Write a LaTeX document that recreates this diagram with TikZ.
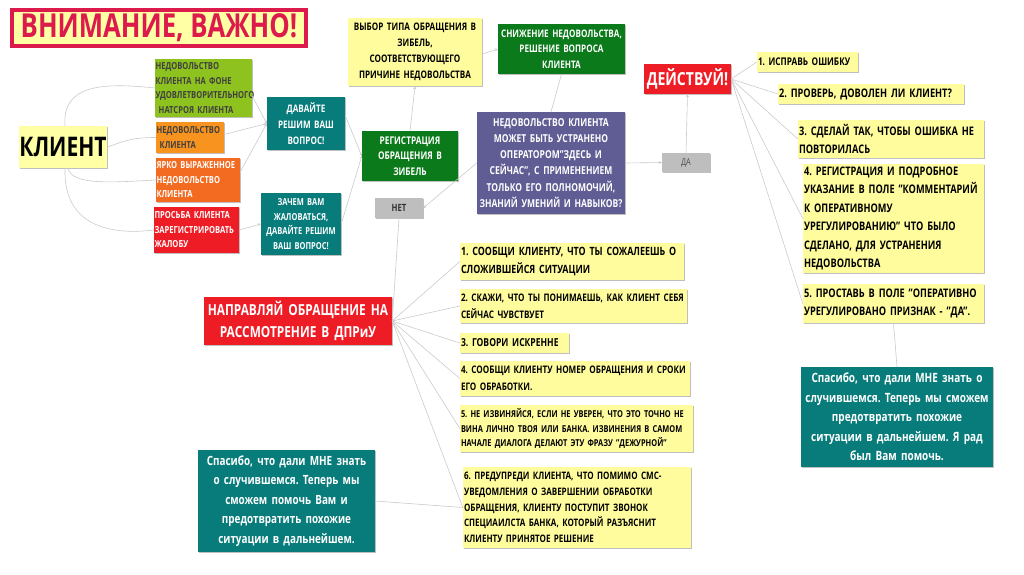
\documentclass[tikz,border=0pt]{standalone}
\usepackage{fontspec}
\setmainfont{Open Sans}[FakeStretch=0.78]
\usetikzlibrary{arrows.meta,shadows}
\definecolor{cyel}{HTML}{FFFC9E}
\definecolor{ctyel}{HTML}{FFFFA6}
\definecolor{ccrim}{HTML}{DC1A4C}
\definecolor{clime}{HTML}{8DC21F}
\definecolor{cor1}{HTML}{F7931E}
\definecolor{cor2}{HTML}{F26B21}
\definecolor{cred}{HTML}{EE1C25}
\definecolor{cteal}{HTML}{087B7B}
\definecolor{cdgreen}{HTML}{0B7A1A}
\definecolor{cpurp}{HTML}{605C94}
\definecolor{cgray}{HTML}{BEBEBE}
\definecolor{cline}{HTML}{CACACA}
\newcommand\fs[2]{\fontsize{#1}{#2}\selectfont}
\frenchspacing
\tikzset{
  bx/.style={rectangle, inner sep=0pt, font=\bfseries, drop shadow={shadow xshift=0.8pt, shadow yshift=-0.8pt, fill=black, opacity=0.25}},
  ybox/.style={bx, fill=cyel, text=black, align=left},
  tealbox/.style={bx, fill=cteal, text=white, align=center},
  conn/.style={draw=cline, line width=0.6pt},
  arr/.style={conn, -{Stealth[length=3pt,width=3pt]}},
}
\begin{document}
\begin{tikzpicture}[x=1pt,y=-1pt]
\useasboundingbox (0,0) rectangle (1024,574);
% title
\node[bx, fill=ctyel, draw=ccrim, line width=4pt, minimum width=294, minimum height=36, text=ccrim, font=\bfseries\fs{33}{36}] (title) at (159,28) {ВНИМАНИЕ, ВАЖНО!};
% client
\node[bx, fill=ctyel, minimum width=88, minimum height=42, font=\bfseries\fs{27}{30}] (klient) at (63,147) {КЛИЕНТ};
% left small boxes
\node[bx, fill=clime, text=black!75, minimum width=97, minimum height=58, text width=96, align=left, font=\bfseries\fs{9.7}{14.5}] (g1) at (203.5,88) {НЕДОВОЛЬСТВО\\КЛИЕНТА НА ФОНЕ\\УДОВЛЕТВОРИТЕЛЬНОГО\\\ НАТСРОЯ КЛИЕНТА};
\node[bx, fill=cor1, text=black!75, minimum width=68, minimum height=31, text width=67, align=left, font=\bfseries\fs{9.7}{14.5}] (o1) at (190,137.5) {НЕДОВОЛЬСТВО\\\ КЛИЕНТА};
\node[bx, fill=cor2, text=white, minimum width=84, minimum height=44, text width=83, align=left, font=\bfseries\fs{9.7}{14.5}] (o2) at (198,180) {ЯРКО ВЫРАЖЕННОЕ\\НЕДОВОЛЬСТВО\\КЛИЕНТА};
\node[bx, fill=cred, text=white, minimum width=85, minimum height=46, text width=84, align=left, font=\bfseries\fs{9.7}{14.5}] (r1) at (196.5,230) {ПРОСЬБА КЛИЕНТА\\ЗАРЕГИСТРИРОВАТЬ\\ЖАЛОБУ};
\node[tealbox, minimum width=78, minimum height=53, text width=77, font=\bfseries\fs{10.4}{16}] (t1) at (306,123.5) {ДАВАЙТЕ\\РЕШИМ ВАШ\\ВОПРОС!};
\node[tealbox, minimum width=80, minimum height=62, text width=79, font=\bfseries\fs{9.6}{14.8}] (t2) at (301,224) {ЗАЧЕМ ВАМ\\ЖАЛОВАТЬСЯ,\\ДАВАЙТЕ РЕШИМ\\ВАШ ВОПРОС!};
% center
\node[bx, fill=cyel, minimum width=134, minimum height=68, text width=133, align=center, font=\bfseries\fs{10.4}{16}] (vyb) at (415,52) {ВЫБОР ТИПА ОБРАЩЕНИЯ В\\ЗИБЕЛЬ,\\СООТВЕТСТВУЮЩЕГО\\ПРИЧИНЕ НЕДОВОЛЬСТВА};
\node[bx, fill=cdgreen, text=white, minimum width=127, minimum height=50, text width=126, align=center, font=\bfseries\fs{10.4}{15.5}] (sn) at (561.5,49) {СНИЖЕНИЕ НЕДОВОЛЬСТВА,\\РЕШЕНИЕ ВОПРОСА\\КЛИЕНТА};
\node[bx, fill=cdgreen, text=white, minimum width=96, minimum height=50, text width=95, align=center, font=\bfseries\fs{10.6}{15.5}] (reg) at (410,156) {РЕГИСТРАЦИЯ\\ОБРАЩЕНИЯ В\\ЗИБЕЛЬ};
\node[bx, fill=cgray, text=black!80, minimum width=48, minimum height=20, font=\bfseries\fs{10}{11}] (net) at (399,208) {НЕТ};
\node[bx, fill=cpurp, text=white, minimum width=148, minimum height=102, text width=147, align=center, font=\bfseries\fs{10.9}{16.2}] (pur) at (551,163) {НЕДОВОЛЬСТВО КЛИЕНТА\\МОЖЕТ БЫТЬ УСТРАНЕНО\\ОПЕРАТОРОМ"ЗДЕСЬ И\\СЕЙЧАС", С ПРИМЕНЕНИЕМ\\ТОЛЬКО ЕГО ПОЛНОМОЧИЙ,\\ЗНАНИЙ УМЕНИЙ И НАВЫКОВ?};
\node[bx, fill=cgray, text=black!70, minimum width=48, minimum height=19, font=\fs{9.5}{11}] (da) at (686,162.5) {ДА};
\node[bx, fill=cred, text=white, minimum width=87, minimum height=30, font=\bfseries\fs{18}{20}] (dei) at (687.5,79) {ДЕЙСТВУЙ!};
% right list
\node[ybox, minimum width=101, minimum height=20, text width=99, font=\bfseries\fs{10.6}{18.5}] (a1) at (807.5,62) {1. ИСПРАВЬ ОШИБКУ};
\node[ybox, minimum width=186, minimum height=20, text width=184, font=\bfseries\fs{11.8}{18.5}] (a2) at (871,94) {2. ПРОВЕРЬ, ДОВОЛЕН ЛИ КЛИЕНТ?};
\node[ybox, minimum width=186, minimum height=38, text width=184, font=\bfseries\fs{11.8}{18.5}] (a3) at (891,139) {3. СДЕЛАЙ ТАК, ЧТОБЫ ОШИБКА НЕ\\ПОВТОРИЛАСЬ};
\node[ybox, minimum width=181, minimum height=109, text width=179, font=\bfseries\fs{11.8}{18.5}] (a4) at (893.5,218.5) {4. РЕГИСТРАЦИЯ И ПОДРОБНОЕ\\УКАЗАНИЕ В ПОЛЕ "КОММЕНТАРИЙ\\К ОПЕРАТИВНОМУ\\УРЕГУЛИРОВАНИЮ" ЧТО БЫЛО\\СДЕЛАНО, ДЛЯ УСТРАНЕНИЯ\\НЕДОВОЛЬСТВА};
\node[ybox, minimum width=181, minimum height=39, text width=179, font=\bfseries\fs{11.8}{18.5}] (a5) at (893.5,303.5) {5. ПРОСТАВЬ В ПОЛЕ "ОПЕРАТИВНО\\УРЕГУЛИРОВАНО ПРИЗНАК - "ДА".};
\node[tealbox, minimum width=192, minimum height=100, text width=191, font=\bfseries\fs{12.8}{19.5}] (tr) at (897,417) {Спасибо, что дали МНЕ знать о\\случившемся. Теперь мы сможем\\предотвратить похожие\\ситуации в дальнейшем. Я рад\\был Вам помочь.};
% bottom left
\node[bx, fill=cred, text=white, minimum width=188, minimum height=48, text width=187, align=center, font=\bfseries\fs{15.2}{22}] (nap) at (298,321) {НАПРАВЛЯЙ ОБРАЩЕНИЕ НА\\РАССМОТРЕНИЕ В ДПРиУ};
\node[ybox, minimum width=224, minimum height=37, text width=222, font=\bfseries\fs{11.4}{18}] (b1) at (572,261.5) {1. СООБЩИ КЛИЕНТУ, ЧТО ТЫ СОЖАЛЕЕШЬ О\\СЛОЖИВШЕЙСЯ СИТУАЦИИ};
\node[ybox, minimum width=227, minimum height=34, text width=225, font=\bfseries\fs{10.4}{17}] (b2) at (573.5,306) {\mbox{2. СКАЖИ, ЧТО ТЫ ПОНИМАЕШЬ, КАК КЛИЕНТ СЕБЯ}\\СЕЙЧАС ЧУВСТВУЕТ};
\node[ybox, minimum width=109, minimum height=20, text width=107, font=\bfseries\fs{11}{17}] (b3) at (514.5,343) {3. ГОВОРИ ИСКРЕННЕ};
\node[ybox, minimum width=230, minimum height=35, text width=228, font=\bfseries\fs{10.4}{17}] (b4) at (575,378.5) {\mbox{4. СООБЩИ КЛИЕНТУ НОМЕР ОБРАЩЕНИЯ И СРОКИ}\\ЕГО ОБРАБОТКИ.};
\node[ybox, minimum width=233, minimum height=47, text width=231, font=\bfseries\fs{9.5}{14.5}] (b5) at (576.5,428.5) {5. НЕ ИЗВИНЯЙСЯ, ЕСЛИ НЕ УВЕРЕН, ЧТО ЭТО ТОЧНО НЕ\\ВИНА ЛИЧНО ТВОЯ ИЛИ БАНКА. ИЗВИНЕНИЯ В САМОМ\\НАЧАЛЕ ДИАЛОГА ДЕЛАЮТ ЭТУ ФРАЗУ "ДЕЖУРНОЙ"};
\node[ybox, minimum width=228, minimum height=81, text width=226, font=\bfseries\fs{10.3}{15.6}] (b6) at (577,507.5) {6. ПРЕДУПРЕДИ КЛИЕНТА, ЧТО ПОМИМО СМС-\\УВЕДОМЛЕНИЯ О ЗАВЕРШЕНИИ ОБРАБОТКИ\\ОБРАЩЕНИЯ, КЛИЕНТУ ПОСТУПИТ ЗВОНОК\\СПЕЦИАИЛСТА БАНКА, КОТОРЫЙ РАЗЪЯСНИТ\\КЛИЕНТУ ПРИНЯТОЕ РЕШЕНИЕ};
\node[tealbox, minimum width=177, minimum height=102, text width=176, font=\bfseries\fs{12.7}{19.5}] (tl) at (286.5,501) {Спасибо, что дали МНЕ знать\\о случившемся. Теперь мы\\сможем помочь Вам и\\предотвратить похожие\\ситуации в дальнейшем.};
% connectors
\draw[conn] ([xshift=2pt]klient.north) .. controls +(-3,-40) and +(-55,-6) .. (g1.west);
\draw[conn] (klient.east) .. controls +(18,-6) and +(-25,0) .. (o1.west);
\draw[conn] ([xshift=5pt]klient.south) .. controls +(4,18) and +(-40,2) .. (o2.west);
\draw[conn] ([xshift=2pt]klient.south) .. controls +(-2,60) and +(-40,5) .. (r1.west);
\draw[arr] ([yshift=-8pt]g1.east) -- (t1.west);
\draw[arr] ([yshift=3pt]o1.east) -- (t1.west);
\draw[arr] ([yshift=8pt]o2.east) -- (t1.west);
\draw[arr] (r1.east) -- (t2.west);
\draw[arr] ([yshift=8pt]t1.east) -- (reg.west);
\draw[arr] (t2.east) -- (reg.west);
\draw[arr] (reg.north) -- (vyb.south);
\draw[arr] ([yshift=-2pt]vyb.east) -- (sn.west);
\draw[conn] (sn.south) -- (pur.north);
\draw[arr] (pur.west) -- (net.east);
\draw[conn] (net.south) -- (nap.east);
\draw[arr] (pur.east) -- (da.west);
\draw[arr] (da.north) -- (dei.south);
\foreach \t in {a1,a2,a3,a4,a5} \draw[conn] (dei.east) -- (\t.west);
\draw[conn] (a5.south) -- (tr.north);
\foreach \t in {b1,b2,b3,b4,b5,b6} \draw[conn] (nap.east) -- (\t.west);
\draw[conn] (tl.east) -- (b6.west);
\end{tikzpicture}
\end{document}
